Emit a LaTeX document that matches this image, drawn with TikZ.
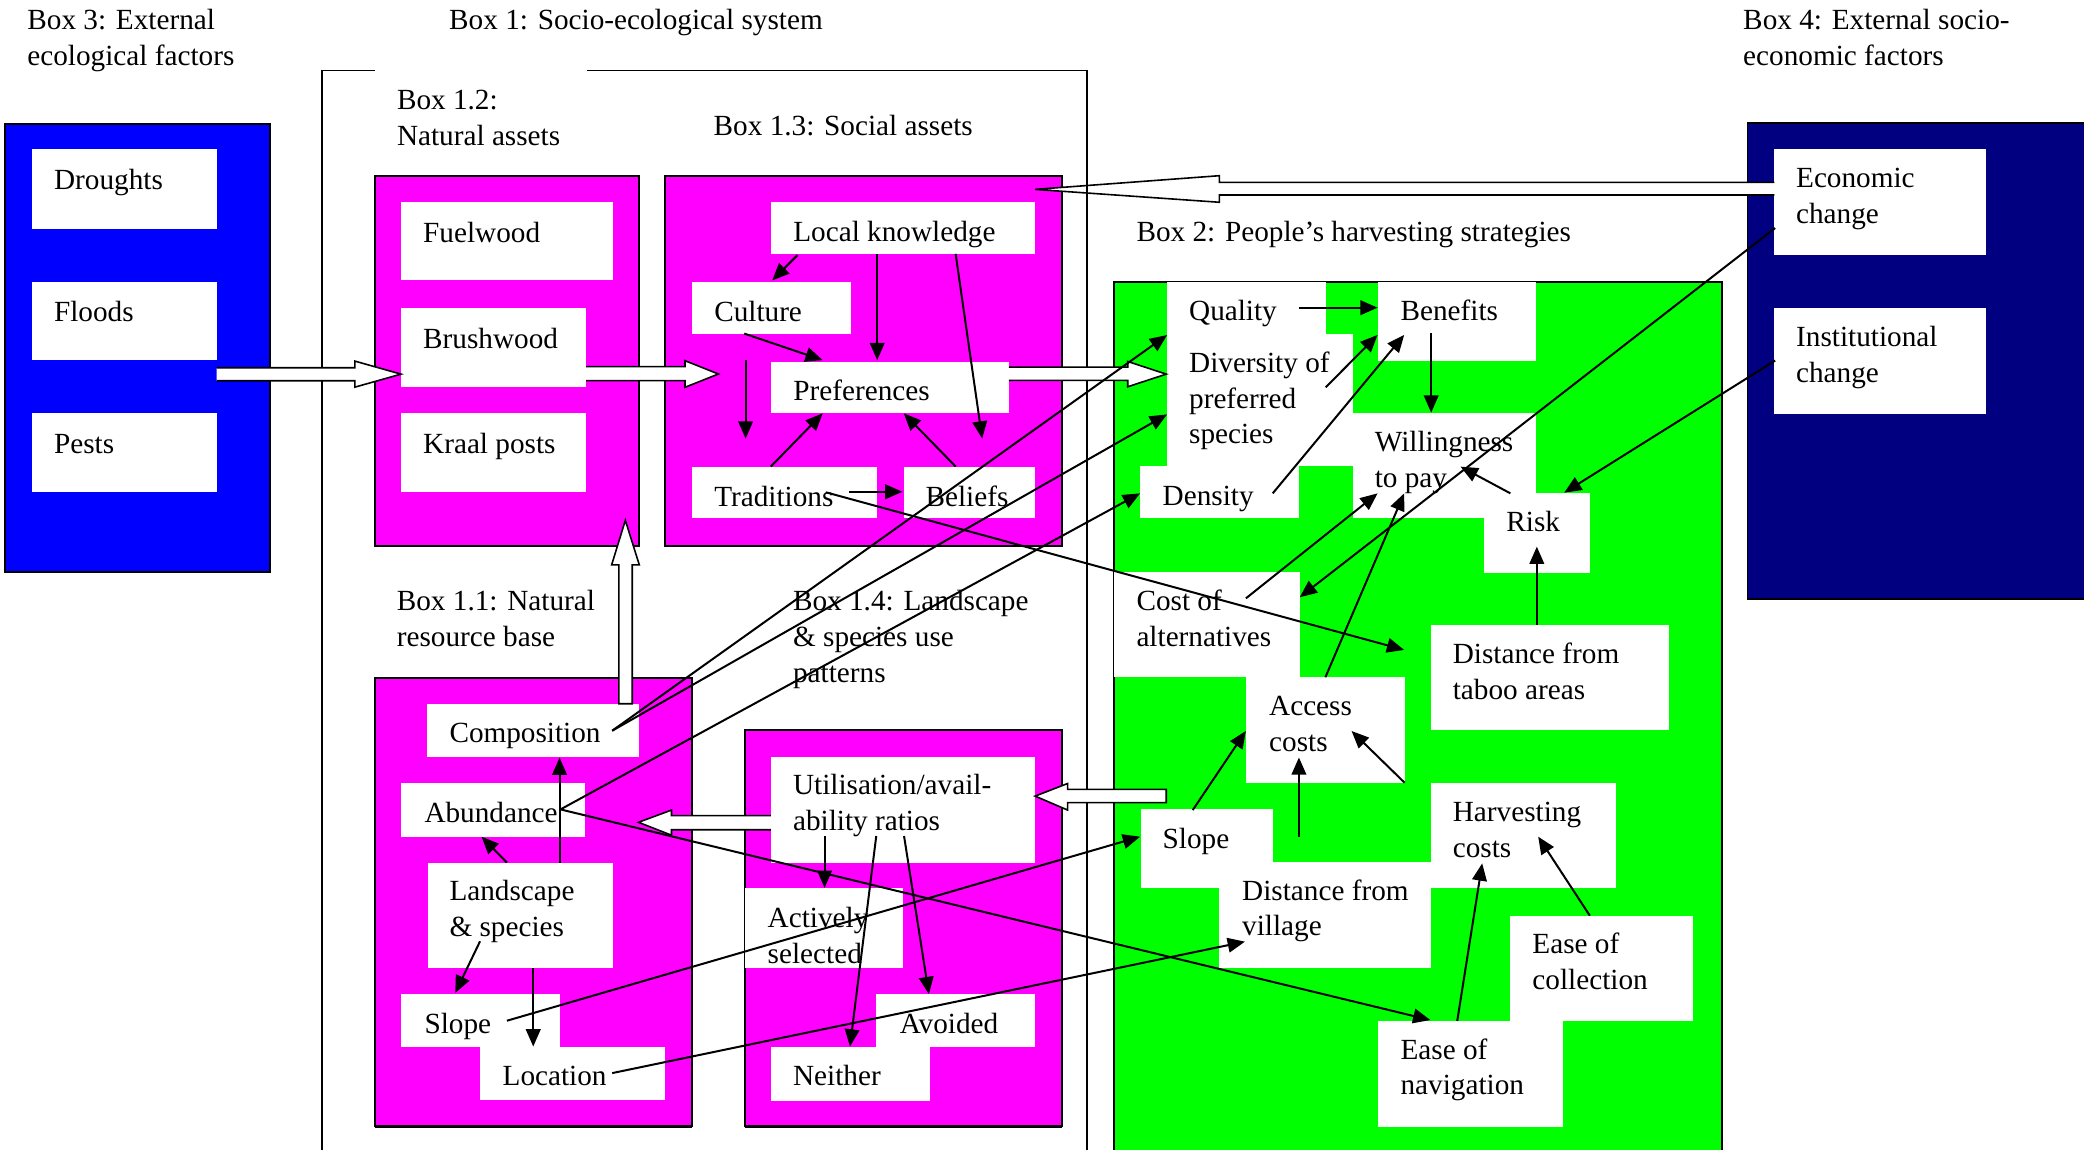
\documentclass[tikz,border=0pt]{standalone}
\usepackage{fontspec}
\setmainfont{Liberation Serif}
\usetikzlibrary{arrows.meta}
\definecolor{bxblue}{RGB}{0,0,255}
\definecolor{bxmag}{RGB}{255,0,255}
\definecolor{bxgreen}{RGB}{0,255,0}
\definecolor{bxnavy}{RGB}{0,0,128}
\newcommand{\mytext}[4]{\node[txt] (#1) at (#2,#3) {\parbox[t]{300pt}{\raggedright #4}};}
\newcommand{\wbox}[5]{\fill[white] (#2,#3) rectangle (#4,#5) coordinate (#1);}
\begin{document}
\begin{tikzpicture}[x=0.5pt,y=-0.5pt,
  conn/.style={line width=0.75pt,-{Triangle[length=6.5pt,width=5.5pt]}},
  panel/.style={draw=black,line width=0.7pt},
  frame/.style={draw=black,line width=0.7pt},
  txt/.style={anchor=base west,inner sep=0pt,font=\fontsize{11}{13.5}\selectfont},
  blk/.style={draw=black,fill=white,line width=0.6pt,line join=miter}]
\useasboundingbox (0,0) rectangle (1568,865);
\fill[white] (0,0) rectangle (1568,865);
% Box 1 frame
\draw[frame] (242,880) -- (242,53) -- (818,53) -- (818,880);
\fill[white] (282,49) rectangle (441.5,131);
% panels
\filldraw[panel,fill=bxblue] (4,93) rectangle (203,430.5);
\filldraw[panel,fill=bxmag] (282,132.5) rectangle (481,410.5);
\filldraw[panel,fill=bxmag] (500.5,132.5) rectangle (799,411);
\filldraw[panel,fill=bxmag] (282,510) rectangle (520.7,847);
\filldraw[panel,fill=bxmag] (560.3,549.2) rectangle (799,847);
\draw[line width=1.4pt] (282,847.5) -- (520.7,847.5);
\draw[line width=1.4pt] (560.3,847.5) -- (799,847.5);
\filldraw[panel,fill=bxgreen] (838,212) rectangle (1295.4,880);
\filldraw[panel,fill=bxnavy] (1314.8,92.8) rectangle (1580,450.6);
% white boxes
\wbox{droughts}{24}{112}{163}{172}
\wbox{floods}{24}{212}{163}{271}
\wbox{pests}{24}{311}{163}{370}
\wbox{fuelwood}{302}{152}{461}{211}
\wbox{brushwood}{302}{232}{441}{291}
\wbox{kraal}{302}{311}{441}{370}
\wbox{lk}{580}{152}{779}{191}
\wbox{culture}{521}{212}{640}{251}
\wbox{prefs}{580}{272}{759}{311}
\wbox{trad}{521}{351}{660}{390}
\wbox{beliefs}{680}{351}{779}{390}
\wbox{comp}{321.6}{529.8}{480.7}{569.2}
\wbox{abund}{301.8}{589.5}{440.4}{629.5}
\wbox{land}{322}{649}{461.3}{728.5}
\wbox{slopeA}{301.8}{748}{421}{787.4}
\wbox{loc}{361.2}{788}{500.2}{827.7}
\wbox{util}{580}{569.2}{778.8}{649.3}
\wbox{act}{560.3}{668.5}{679.1}{728.5}
\wbox{avoid}{659.3}{748}{778.8}{787.4}
\wbox{neither}{580}{788}{700}{828.2}
\wbox{quality}{878}{212}{998}{251}
\wbox{divers}{878}{251}{1018}{350.5}
\wbox{benefits}{1036.5}{212}{1156}{271.4}
\wbox{will}{1018}{310.5}{1156}{390}
\wbox{density}{858}{350.4}{977}{390}
\wbox{risk}{1116.7}{370.7}{1196}{431}
\wbox{costalt}{838.4}{430}{978}{509.7}
\wbox{taboo}{1077}{470.3}{1255.5}{549}
\wbox{access}{937.4}{509.7}{1056.8}{589}
\wbox{slopeB}{858.8}{609}{958}{668.4}
\wbox{village}{917}{648.4}{1077}{728}
\wbox{harvest}{1077}{589.4}{1216}{668.4}
\wbox{collect}{1136}{689}{1274}{768}
\wbox{navig}{1037}{768}{1176}{848}
\wbox{econ}{1334.8}{112.4}{1494}{191.5}
\wbox{inst}{1334.8}{232}{1494}{311.4}
% block arrow Economic change -> Box 1.3
\draw[blk] (1335,137.2) -- (917.5,137.2) -- (917.5,132.2) -- (778.8,142.5) -- (917.5,152.2) -- (917.5,146.7) -- (1335,146.7);
\draw[frame] (818,120) -- (818,170);
% other block arrows
\draw[blk] (163,276.7) -- (267,276.7) -- (267,271.7) -- (301.7,281.5) -- (267,291.3) -- (267,286.5) -- (163,286.5);
\draw[blk] (441,275.9) -- (515.4,275.9) -- (515.4,271.4) -- (540.5,281.4) -- (515.4,291.4) -- (515.4,286.4) -- (441,286.4);
\draw[blk] (759,276.2) -- (848.5,276.2) -- (848.5,272) -- (877.5,281.5) -- (848.5,291) -- (848.5,286.2) -- (759,286.2);
\draw[blk] (877.5,593.9) -- (803.3,593.9) -- (803.3,589.5) -- (778.8,599) -- (803.3,609.5) -- (803.3,603.9) -- (877.5,603.9) -- cycle;
\draw[blk] (580,613.7) -- (505.2,613.7) -- (505.2,609.5) -- (480.4,618.7) -- (505.2,628.4) -- (505.2,624.3) -- (580,624.3);
\draw[blk] (465.6,529.5) -- (465.6,425) -- (460.2,425) -- (470.5,391.5) -- (481,425) -- (475.7,425) -- (475.7,529.5) -- cycle;
% titles
\mytext{tb3}{20.2}{22.3}{Box 3: External\\ecological factors}
\mytext{tb1}{337.6}{22.3}{Box 1: Socio-ecological system}
\mytext{tb4}{1311.2}{22.3}{Box 4: External socio-\\economic factors}
\mytext{tb12}{298.3}{82.2}{Box 1.2:\\Natural assets}
\mytext{tb13}{536.6}{102.3}{Box 1.3: Social assets}
\mytext{tb2}{854.7}{181.8}{Box 2: People’s harvesting strategies}
\mytext{tb11}{298.2}{459.5}{Box 1.1: Natural\\resource base}
\mytext{tb14}{596.3}{459.5}{Box 1.4: Landscape\\\& species use\\patterns}
% box texts
\mytext{tdrought}{40.3}{142.5}{Droughts}
\mytext{tflood}{40.3}{242}{Floods}
\mytext{tpest}{40.3}{341}{Pests}
\mytext{tfuel}{318}{182.5}{Fuelwood}
\mytext{tbrush}{318}{262}{Brushwood}
\mytext{tkraal}{318}{341}{Kraal posts}
\mytext{tlk}{596.5}{182}{Local knowledge}
\mytext{tcult}{537}{242}{Culture}
\mytext{tpref}{596.5}{301}{Preferences}
\mytext{ttrad}{537}{381}{Traditions}
\mytext{tbel}{696}{381}{Beliefs}
\mytext{tcomp}{337.8}{559}{Composition}
\mytext{tabund}{319}{618.7}{Abundance}
\mytext{tland}{337.8}{677.6}{Landscape\\\& species}
\mytext{tslopeA}{319}{777.7}{Slope}
\mytext{tloc}{377.8}{816.6}{Location}
\mytext{tutil}{596.3}{597.9}{Utilisation/avail-\\ability ratios}
\mytext{tact}{577.2}{697.9}{Actively\\selected}
\mytext{tavoid}{676.6}{777.7}{Avoided}
\mytext{tneither}{596.3}{816.6}{Neither}
\mytext{tqual}{894.3}{240.8}{Quality}
\mytext{tdiv}{894.3}{280}{Diversity of\\preferred\\species}
\mytext{tben}{1053.4}{240.8}{Benefits}
\mytext{twill}{1034}{339.8}{Willingness\\to pay}
\mytext{tdens}{874.4}{380}{Density}
\mytext{trisk}{1133}{400}{Risk}
\mytext{tcost}{854.7}{459.5}{Cost of\\alternatives}
\mytext{ttaboo}{1092.7}{499}{Distance from\\taboo areas}
\mytext{tacc}{954.5}{538.5}{Access\\costs}
\mytext{tslopeB}{874.4}{638.3}{Slope}
\mytext{tharv}{1092.7}{618.3}{Harvesting\\costs}
\mytext{tvill}{934.2}{677.2}{Distance from\\village}
\mytext{tcoll}{1152.6}{717.3}{Ease of\\collection}
\mytext{tnav}{1053.4}{796.8}{Ease of\\navigation}
\mytext{tecon}{1351}{141.3}{Economic\\change}
\mytext{tinst}{1351}{261}{Institutional\\change}
% connector end points
\coordinate (lkA) at (600,192);   \coordinate (cuT) at (581,211);
\coordinate (lkB) at (660,191);   \coordinate (prT) at (660,271);
\coordinate (lkC) at (719,191);   \coordinate (beT) at (739,330);
\coordinate (cuB) at (560,251);   \coordinate (prL) at (619,271);
\coordinate (vfA) at (561,271);   \coordinate (vfB) at (561,330);
\coordinate (trA) at (580,351);   \coordinate (prBL) at (619,311);
\coordinate (beA) at (719,351);   \coordinate (prBR) at (680,311);
\coordinate (trR) at (639,370);   \coordinate (beL) at (679,370);
\coordinate (coS) at (460.6,549.8);
\coordinate (quIn) at (878.1,252.1);
\coordinate (diIn) at (878.1,311.8);
\coordinate (abS) at (421.7,609);
\coordinate (deIn) at (857.8,371.2);
\coordinate (naIn) at (1076.2,767.5);
\coordinate (slS) at (381.4,768);
\coordinate (slIn) at (857.8,629.5);
\coordinate (loS) at (460.6,807.4);
\coordinate (viIn) at (936.7,708.5);
\coordinate (trS) at (621.3,370.4);
\coordinate (taIn) at (1056.5,489);
\coordinate (ecS) at (1335.6,171.6);
\coordinate (caIn) at (977.9,449.4);
\coordinate (inS) at (1335.6,271.3);
\coordinate (riIn) at (1176.9,370.7);
\coordinate (quR) at (977,231.5);   \coordinate (bnL) at (1036.5,231.5);
\coordinate (bnB) at (1076.8,250.8); \coordinate (wiT) at (1076.8,310.5);
\coordinate (diR) at (997.5,291.4); \coordinate (bnBL) at (1036.5,252);
\coordinate (deR) at (957.6,371.2); \coordinate (bnBM) at (1056.5,252);
\coordinate (riA) at (1136.4,371.2); \coordinate (wiR) at (1098.9,351.1);
\coordinate (taT) at (1156.3,470.3); \coordinate (riB) at (1156.3,411.3);
\coordinate (caA) at (937.4,450.2); \coordinate (wiBL) at (1036.5,371.2);
\coordinate (acA) at (997.2,509.6); \coordinate (wiBM) at (1056.5,371.2);
\coordinate (slA) at (897.4,609.5); \coordinate (acL) at (937.4,550);
\coordinate (viA) at (977.3,629.5); \coordinate (acB) at (977.3,569.9);
\coordinate (haA) at (1056.8,588.9); \coordinate (acR) at (1016.9,550);
\coordinate (naA) at (1096.4,768.2); \coordinate (haB) at (1115.2,649.6);
\coordinate (clA) at (1196.2,689);  \coordinate (haR) at (1157.3,629.5);
\coordinate (laA) at (421,649);     \coordinate (coB) at (421,570);
\coordinate (laB) at (381.4,649);   \coordinate (abB) at (362.3,629.5);
\coordinate (laC) at (361.2,708.2); \coordinate (slT) at (342.5,747.1);
\coordinate (laD) at (401.2,728.5); \coordinate (loT) at (401.2,787.4);
\coordinate (utA) at (620.4,629);   \coordinate (acT) at (620.4,668);
\coordinate (utB) at (659.3,629);   \coordinate (neT) at (639.5,787.4);
\coordinate (utC) at (680.2,629);   \coordinate (avT) at (698.9,748);
% connectors
\draw[conn] (lkA) -- (cuT);
\draw[conn] (lkB) -- (prT);
\draw[conn] (lkC) -- (beT);
\draw[conn] (cuB) -- (prL);
\draw[conn] (vfA) -- (vfB);
\draw[conn] (trA) -- (prBL);
\draw[conn] (beA) -- (prBR);
\draw[conn] (trR) -- (beL);
\draw[conn] (coS) -- (quIn);
\draw[conn] (coS) -- (diIn);
\draw[conn] (abS) -- (deIn);
\draw[conn] (abS) -- (naIn);
\draw[conn] (slS) -- (slIn);
\draw[conn] (loS) -- (viIn);
\draw[conn] (trS) -- (taIn);
\draw[conn] (ecS) -- (caIn);
\draw[conn] (inS) -- (riIn);
\draw[conn] (quR) -- (bnL);
\draw[conn] (bnB) -- (wiT);
\draw[conn] (diR) -- (bnBL);
\draw[conn] (deR) -- (bnBM);
\draw[conn] (riA) -- (wiR);
\draw[conn] (taT) -- (riB);
\draw[conn] (caA) -- (wiBL);
\draw[conn] (acA) -- (wiBM);
\draw[conn] (slA) -- (acL);
\draw[conn] (viA) -- (acB);
\draw[conn] (haA) -- (acR);
\draw[conn] (naA) -- (haB);
\draw[conn] (clA) -- (haR);
\draw[conn] (laA) -- (coB);
\draw[conn] (laB) -- (abB);
\draw[conn] (laC) -- (slT);
\draw[conn] (laD) -- (loT);
\draw[conn] (utA) -- (acT);
\draw[conn] (utB) -- (neT);
\draw[conn] (utC) -- (avT);
\end{tikzpicture}
\end{document}
